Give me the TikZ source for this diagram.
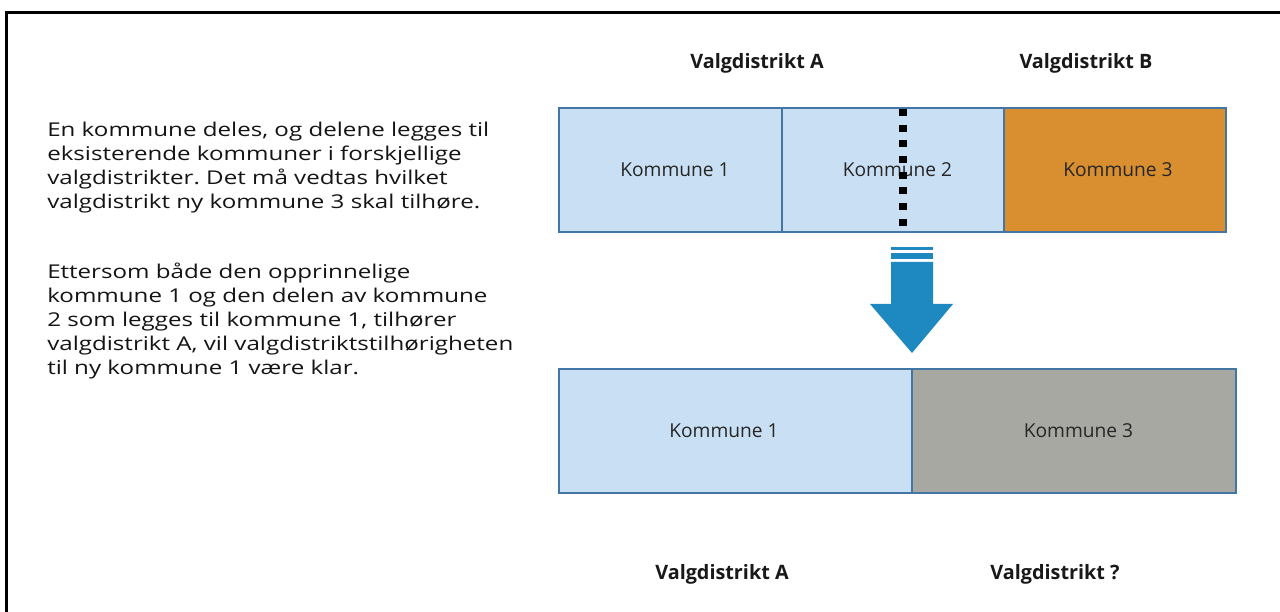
\documentclass[tikz,border=0pt]{standalone}
\usepackage{fontspec}
\setmainfont{Open Sans}
\frenchspacing
\begin{document}
\begin{tikzpicture}[x=1pt,y=-1pt,
  muni/.style={draw=boxline,line width=2pt,minimum height=124pt,inner sep=0pt},
  munilabel/.style={font=\fontsize{19.2}{20}\selectfont,text=black!85,inner sep=0pt},
  district/.style={font=\bfseries\fontsize{19.8}{22}\selectfont,text=black!90,inner sep=0pt,anchor=base},
  para/.style={font=\fontsize{19}{24}\selectfont,align=left,inner sep=0pt,anchor=north west,
    text=black!92,xscale=1.27,transform shape}]
\definecolor{lightblue}{HTML}{C9E0F4}
\definecolor{boxline}{HTML}{4375A5}
\definecolor{orangebox}{HTML}{D98F30}
\definecolor{greybox}{HTML}{A8A8A3}
\definecolor{arrowblue}{HTML}{1E88C0}
\useasboundingbox (0,0) rectangle (1280,612);

% outer frame
\draw[line width=2.6pt] (6.5,640) -- (6.5,12.5) -- (1300,12.5);

% explanatory text
\node[para] (p1) at (47,122) {En kommune deles, og delene legges til\\
eksisterende kommuner i forskjellige\\
valgdistrikter. Det må vedtas hvilket\\
valgdistrikt ny kommune 3 skal tilhøre.};
\node[para] (p2) at (47,263) {Ettersom både den opprinnelige\\
kommune 1 og den delen av kommune\\
2 som legges til kommune 1, tilhører\\
valgdistrikt A, vil valgdistriktstilhørigheten\\
til ny kommune 1 være klar.};

% municipalities before the change
\node[muni,fill=lightblue,minimum width=223pt] (k1) at (670.5,170) {};
\node[muni,fill=lightblue,minimum width=222pt] (k2) at (893,170) {};
\node[muni,fill=orangebox,minimum width=222pt] (k3) at (1115,170) {};
\node[munilabel] (k1t) at ([xshift=4.5pt]k1.center) {Kommune 1};
\node[munilabel] (k2t) at ([xshift=4.5pt]k2.center) {Kommune 2};
\node[munilabel] (k3t) at ([xshift=3pt]k3.center) {Kommune 3};

% dividing line through Kommune 2
\coordinate (cutT) at (903,109);
\coordinate (cutB) at (903,232);
\draw[line width=8pt,dash pattern=on 7pt off 8.7pt] (cutT) -- (cutB);

% districts above
\node[district] (dA) at (757,68.5) {Valgdistrikt A};
\node[district] (dB) at (1086,68.5) {Valgdistrikt B};

% transition arrow
\fill[arrowblue] (891,247) rectangle (933,250.5);
\fill[arrowblue] (891,253.5) rectangle (933,259);
\fill[arrowblue] (891,262) -- (933,262) -- (933,304) -- (953,304) -- (912,353)
  -- (870,304) -- (891,304) -- cycle;

% municipalities after the change
\node[muni,fill=lightblue,minimum width=353pt] (n1) at (735.5,430.5) {};
\node[muni,fill=greybox,minimum width=324pt] (n3) at (1074,430.5) {};
\node[munilabel] (n1t) at ([xshift=-11.5pt]n1.center) {Kommune 1};
\node[munilabel] (n3t) at ([xshift=4.5pt]n3.center) {Kommune 3};

% districts below
\node[district] (eA) at (722,579) {Valgdistrikt A};
\node[district] (eQ) at (1055,579) {Valgdistrikt ?};
\end{tikzpicture}
\end{document}
